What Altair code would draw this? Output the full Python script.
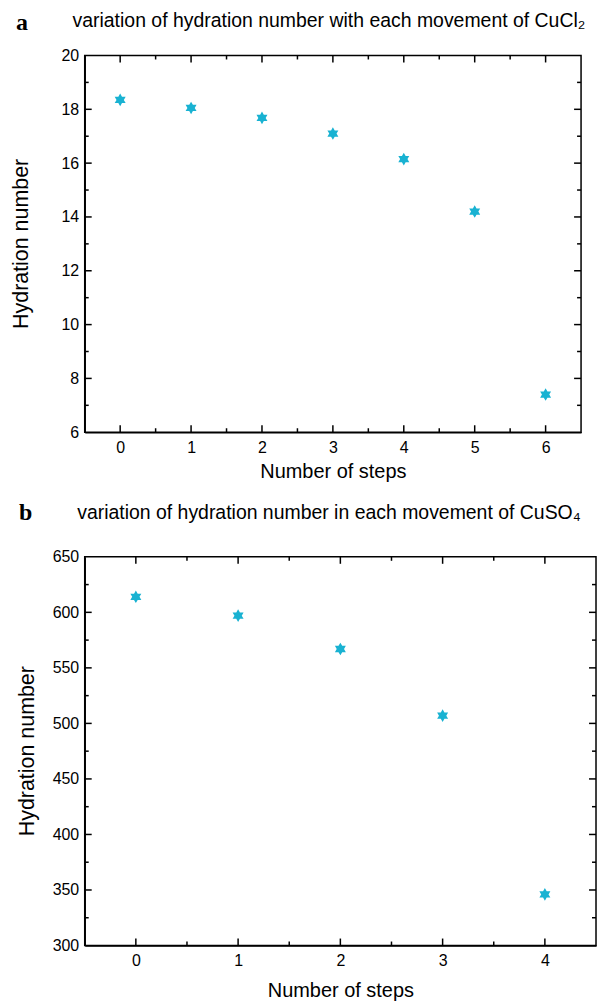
import altair as alt
import pandas as pd

# ---------------- data ----------------
a_steps = [0, 1, 2, 3, 4, 5, 6]
a_hydration = [18.35, 18.05, 17.68, 17.1, 16.15, 14.2, 7.4]
b_steps = [0, 1, 2, 3, 4]
b_hydration = [614, 597, 567, 507, 346]

a_title = "variation of hydration number with each movement of CuCl\u2082"
b_title = "variation of hydration number in each movement of CuSO\u2084"
panel_letters = ["a", "b"]
y_title = "Hydration number"
x_title = "Number of steps"

a_x_major = [0, 1, 2, 3, 4, 5, 6]
a_x_minor = [0.5, 1.5, 2.5, 3.5, 4.5, 5.5]
a_y_labels = [6, 8, 10, 12, 14, 16, 18, 20]
a_y_major = [8, 10, 12, 14, 16, 18]
a_y_minor = [7, 9, 11, 13, 15, 17, 19]

b_x_major = [0, 1, 2, 3, 4]
b_x_minor = [0.5, 1.5, 2.5, 3.5]
b_y_labels = [300, 350, 400, 450, 500, 550, 600, 650]
b_y_major = [350, 400, 450, 500, 550, 600]
b_y_minor = [325, 375, 425, 475, 525, 575, 625]

FONT = "Liberation Sans"
STAR = ("M0,-1L0.29,-0.5L0.87,-0.5L0.58,0L0.87,0.5L0.29,0.5L0,1"
        "L-0.29,0.5L-0.87,0.5L-0.58,0L-0.87,-0.5L-0.29,-0.5Z")
COLOR = "#19b2d2"


def panel(steps, values, xdom, ydom, x_major, x_minor, y_labels, y_major, y_minor,
          title, letter, W, H, letter_x, letter_y, title_x, title_y, ytitle_x,
          xtitle_pad):
    xs = alt.Scale(domain=xdom, nice=False, zero=False)
    ys = alt.Scale(domain=ydom, nice=False, zero=False)
    xaxis = alt.Axis(values=x_major, format="d", title=x_title, titleFontSize=20,
                     titlePadding=xtitle_pad, labelFontSize=16, labelPadding=7)
    yaxis = alt.Axis(values=y_labels, format="d", title=None, labelFontSize=16,
                     labelPadding=6)
    df = pd.DataFrame({"step": steps, "h": values})

    pts = alt.Chart(df).mark_point(
        shape=STAR, filled=True, size=160, color=COLOR, opacity=1
    ).encode(
        x=alt.X("step:Q", scale=xs, axis=xaxis),
        y=alt.Y("h:Q", scale=ys, axis=yaxis),
    )

    layers = [pts]
    for xv, yv, lens in ((x_major, y_major, 7), (x_minor, y_minor, 4)):
        base_x = alt.Chart(pd.DataFrame({"v": xv})).mark_rule(color="black", strokeWidth=1.5)
        layers.append(base_x.encode(x=alt.X("v:Q", scale=xs, axis=xaxis),
                                    y=alt.value(H), y2=alt.value(H - lens)))
        layers.append(base_x.encode(x=alt.X("v:Q", scale=xs, axis=xaxis),
                                    y=alt.value(0), y2=alt.value(lens)))
        base_y = alt.Chart(pd.DataFrame({"v": yv})).mark_rule(color="black", strokeWidth=1.5)
        layers.append(base_y.encode(y=alt.Y("v:Q", scale=ys, axis=yaxis),
                                    x=alt.value(0), x2=alt.value(lens)))
        layers.append(base_y.encode(y=alt.Y("v:Q", scale=ys, axis=yaxis),
                                    x=alt.value(W), x2=alt.value(W - lens)))

    lab = alt.Chart(pd.DataFrame({"t": [letter]})).mark_text(
        font="Liberation Serif", fontWeight="bold", fontSize=24, align="left",
        baseline="middle", color="black"
    ).encode(text="t:N", x=alt.value(letter_x), y=alt.value(letter_y))
    ttl = alt.Chart(pd.DataFrame({"t": [title]})).mark_text(
        font=FONT, fontSize=19.5, align="center", baseline="middle", color="black"
    ).encode(text="t:N", x=alt.value(title_x), y=alt.value(title_y))
    yt = alt.Chart(pd.DataFrame({"t": [y_title]})).mark_text(
        font=FONT, fontSize=21.5, align="center", baseline="middle", color="black",
        angle=270
    ).encode(text="t:N", x=alt.value(ytitle_x), y=alt.value(H / 2))
    layers += [lab, ttl, yt]

    return alt.layer(*layers).properties(width=W, height=H)


pa = panel(a_steps, a_hydration, [-0.5, 6.5], [6, 20], a_x_major, a_x_minor,
           a_y_labels, a_y_major, a_y_minor, a_title, panel_letters[0], 498, 378,
           -69, -33, 245, -35, -63, 6)
pb = panel(b_steps, b_hydration, [-0.5, 4.5], [300, 650], b_x_major, b_x_minor,
           b_y_labels, b_y_major, b_y_minor, b_title, panel_letters[1], 513, 390,
           -66, -44, 245, -44, -57, 12)

chart = alt.vconcat(pa, pb, spacing=18).resolve_scale(
    x="independent", y="independent"
).configure(
    font=FONT, padding={"left": 10, "top": 8, "right": 0, "bottom": 0}
).configure_axis(
    grid=False, ticks=False, domainColor="black", domainWidth=1.5,
    labelColor="black", titleColor="black", titleFontWeight="normal",
    labelFont=FONT, titleFont=FONT
).configure_view(stroke="black", strokeWidth=1.5)

chart.save("out.html", embed_options={"renderer": "svg", "actions": False})
